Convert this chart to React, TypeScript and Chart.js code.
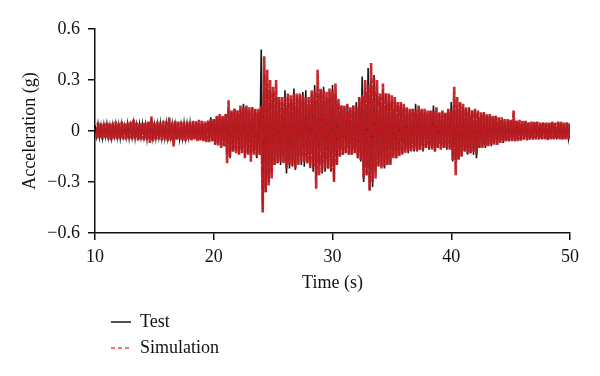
import React, { useEffect, useRef } from "react";
import { Chart, registerables } from "chart.js";

Chart.register(...registerables);

// Sampling grid of the digitised records (seconds)
const T_START = 10;
const T_STEP = 0.125;
const SIM_START = 10.125;

// Test record (g), peaks, 8 samples per second from 10 s
const testValues: number[] = [
  0.035, -0.03, 0.04, -0.035, 0.03, -0.04, 0.035, -0.03, // 10
  0.04, -0.035, 0.03, -0.04, 0.035, -0.03, 0.04, -0.035, // 11
  0.035, -0.04, 0.04, -0.03, 0.03, -0.035, 0.04, -0.04, // 12
  0.03, -0.035, 0.045, -0.04, 0.035, -0.03, 0.04, -0.035, // 13
  0.04, -0.035, 0.035, -0.045, 0.05, -0.04, 0.045, -0.04, // 14
  0.035, -0.04, 0.04, -0.035, 0.045, -0.04, 0.035, -0.04, // 15
  0.045, -0.04, 0.04, -0.035, 0.04, -0.045, 0.035, -0.05, // 16
  0.04, -0.045, 0.035, -0.04, 0.045, -0.04, 0.04, -0.035, // 17
  0.045, -0.05, 0.05, -0.045, 0.055, -0.05, 0.045, -0.05, // 18
  0.05, -0.055, 0.045, -0.05, 0.06, -0.055, 0.08, -0.06, // 19
  0.07, -0.08, 0.08, -0.07, 0.09, -0.085, 0.08, -0.09, // 20
  0.1, -0.12, 0.12, -0.16, 0.11, -0.12, 0.13, -0.11, // 21
  0.12, -0.13, 0.13, -0.12, 0.16, -0.15, 0.14, -0.13, // 22
  0.12, -0.14, 0.14, -0.13, 0.12, -0.16, 0.11, -0.14, // 23
  0.48, -0.46, 0.34, -0.36, 0.28, -0.3, 0.24, -0.25, // 24
  0.22, -0.2, 0.2, -0.19, 0.18, -0.2, 0.17, -0.18, // 25
  0.24, -0.25, 0.2, -0.22, 0.19, -0.21, 0.25, -0.23, // 26
  0.2, -0.19, 0.21, -0.2, 0.23, -0.21, 0.24, -0.19, // 27
  0.18, -0.2, 0.22, -0.24, 0.27, -0.28, 0.22, -0.2, // 28
  0.24, -0.25, 0.26, -0.24, 0.2, -0.22, 0.23, -0.24, // 29
  0.27, -0.29, 0.22, -0.2, 0.16, -0.15, 0.15, -0.14, // 30
  0.14, -0.13, 0.15, -0.14, 0.13, -0.14, 0.15, -0.13, // 31
  0.17, -0.16, 0.2, -0.18, 0.32, -0.3, 0.25, -0.26, // 32
  0.37, -0.35, 0.3, -0.33, 0.33, -0.24, 0.22, -0.2, // 33
  0.2, -0.21, 0.24, -0.22, 0.22, -0.2, 0.21, -0.19, // 34
  0.18, -0.15, 0.17, -0.16, 0.15, -0.14, 0.16, -0.13, // 35
  0.14, -0.12, 0.13, -0.13, 0.12, -0.11, 0.13, -0.12, // 36
  0.16, -0.12, 0.13, -0.11, 0.12, -0.12, 0.11, -0.1, // 37
  0.1, -0.11, 0.12, -0.1, 0.15, -0.12, 0.11, -0.1, // 38
  0.1, -0.09, 0.11, -0.1, 0.1, -0.11, 0.12, -0.1, // 39
  0.17, -0.18, 0.16, -0.17, 0.15, -0.16, 0.16, -0.15, // 40
  0.14, -0.12, 0.13, -0.14, 0.14, -0.13, 0.12, -0.14, // 41
  0.12, -0.16, 0.11, -0.1, 0.1, -0.09, 0.11, -0.1, // 42
  0.09, -0.08, 0.09, -0.09, 0.08, -0.07, 0.09, -0.08, // 43
  0.07, -0.06, 0.065, -0.07, 0.06, -0.06, 0.065, -0.06, // 44
  0.06, -0.05, 0.055, -0.06, 0.06, -0.05, 0.05, -0.055, // 45
  0.05, -0.05, 0.055, -0.045, 0.05, -0.05, 0.045, -0.05, // 46
  0.05, -0.045, 0.05, -0.05, 0.045, -0.05, 0.05, -0.045, // 47
  0.045, -0.05, 0.045, -0.04, 0.05, -0.045, 0.04, -0.05, // 48
  0.05, -0.045, 0.045, -0.05, 0.04, -0.045, 0.05, -0.04, // 49
  0.04, // 50
];

// Simulation record (g), 8 samples per second from 10.125 s
const simValues: number[] = [
  -0.045, 0.05, -0.04, 0.045, -0.05, 0.045, -0.04, 0.05, // 10
  -0.05, 0.045, -0.055, 0.05, -0.045, 0.055, -0.05, 0.045, // 11
  -0.045, 0.055, -0.05, 0.045, -0.05, 0.05, -0.045, 0.055, // 12
  -0.05, 0.07, -0.045, 0.05, -0.055, 0.045, -0.05, 0.05, // 13
  -0.055, 0.05, -0.05, 0.055, -0.07, 0.085, -0.06, 0.05, // 14
  -0.05, 0.055, -0.05, 0.05, -0.055, 0.06, -0.05, 0.055, // 15
  -0.06, 0.08, -0.055, 0.05, -0.09, 0.06, -0.05, 0.055, // 16
  -0.05, 0.055, -0.055, 0.05, -0.06, 0.055, -0.05, 0.05, // 17
  -0.055, 0.06, -0.05, 0.055, -0.06, 0.065, -0.055, 0.06, // 18
  -0.06, 0.055, -0.065, 0.06, -0.065, 0.07, -0.06, 0.07, // 19
  -0.08, 0.09, -0.085, 0.1, -0.1, 0.09, -0.09, 0.1, // 20
  -0.19, 0.18, -0.15, 0.12, -0.12, 0.13, -0.13, 0.12, // 21
  -0.14, 0.15, -0.13, 0.14, -0.16, 0.15, -0.14, 0.14, // 22
  -0.18, 0.14, -0.14, 0.13, -0.15, 0.13, -0.14, 0.15, // 23
  -0.48, 0.44, -0.36, 0.36, -0.32, 0.3, -0.28, 0.26, // 24
  -0.2, 0.3, -0.19, 0.2, -0.18, 0.2, -0.19, 0.2, // 25
  -0.22, 0.22, -0.2, 0.21, -0.2, 0.22, -0.22, 0.22, // 26
  -0.2, 0.22, -0.18, 0.21, -0.18, 0.2, -0.19, 0.2, // 27
  -0.22, 0.24, -0.21, 0.23, -0.34, 0.36, -0.26, 0.25, // 28
  -0.24, 0.24, -0.22, 0.23, -0.22, 0.25, -0.23, 0.24, // 29
  -0.3, 0.28, -0.2, 0.19, -0.15, 0.15, -0.14, 0.15, // 30
  -0.13, 0.16, -0.14, 0.14, -0.14, 0.15, -0.13, 0.14, // 31
  -0.16, 0.2, -0.17, 0.21, -0.28, 0.3, -0.26, 0.27, // 32
  -0.35, 0.4, -0.3, 0.31, -0.28, 0.3, -0.21, 0.22, // 33
  -0.22, 0.28, -0.21, 0.22, -0.2, 0.22, -0.2, 0.21, // 34
  -0.16, 0.2, -0.16, 0.17, -0.15, 0.17, -0.14, 0.16, // 35
  -0.13, 0.14, -0.12, 0.13, -0.12, 0.13, -0.11, 0.12, // 36
  -0.12, 0.15, -0.11, 0.13, -0.11, 0.13, -0.1, 0.12, // 37
  -0.1, 0.12, -0.11, 0.12, -0.12, 0.14, -0.1, 0.11, // 38
  -0.11, 0.12, -0.1, 0.11, -0.1, 0.13, -0.11, 0.12, // 39
  -0.17, 0.26, -0.26, 0.2, -0.17, 0.17, -0.15, 0.16, // 40
  -0.12, 0.14, -0.13, 0.13, -0.13, 0.12, -0.12, 0.13, // 41
  -0.14, 0.12, -0.1, 0.11, -0.1, 0.11, -0.09, 0.1, // 42
  -0.09, 0.1, -0.08, 0.09, -0.08, 0.09, -0.08, 0.08, // 43
  -0.07, 0.08, -0.065, 0.07, -0.06, 0.07, -0.06, 0.065, // 44
  -0.06, 0.12, -0.06, 0.06, -0.06, 0.065, -0.055, 0.06, // 45
  -0.05, 0.06, -0.055, 0.05, -0.05, 0.055, -0.05, 0.055, // 46
  -0.05, 0.055, -0.05, 0.05, -0.045, 0.05, -0.05, 0.05, // 47
  -0.055, 0.05, -0.05, 0.055, -0.05, 0.05, -0.045, 0.055, // 48
  -0.05, 0.055, -0.05, 0.05, -0.05, 0.05, -0.05, 0.045, // 49
];

const xTickValues = [10, 20, 30, 40, 50];
const yTickLabels = ["\u22120.6", "\u22120.3", "0", "0.3", "0.6"];
const seriesNames = ["Test", "Simulation"];

const FONT = "'Liberation Serif', 'Times New Roman', serif";
const TEST_COLOR = "#161616";
const SIM_COLOR = "rgba(190, 27, 33, 0.92)";
const SIM_FILL = "rgba(176, 26, 32, 0.96)";
const SIM_LEGEND_COLOR = "rgba(232, 70, 62, 0.95)";

const legendPlugin = {
  id: "bottomLegend",
  afterDraw(chart: any) {
    const ctx = chart.ctx;
    const items = [
      { label: seriesNames[0], color: TEST_COLOR, dash: [] as number[] },
      { label: seriesNames[1], color: SIM_LEGEND_COLOR, dash: [4, 3] },
    ];
    const x0 = 111;
    const x1 = 131;
    const tx = 140;
    const ys = [322, 348];
    ctx.save();
    items.forEach((it, i) => {
      ctx.beginPath();
      ctx.setLineDash(it.dash);
      ctx.strokeStyle = it.color;
      ctx.lineWidth = 1.5;
      ctx.moveTo(x0, ys[i]);
      ctx.lineTo(x1, ys[i]);
      ctx.stroke();
      ctx.setLineDash([]);
      ctx.fillStyle = "#111";
      ctx.font = `18px ${FONT}`;
      ctx.textBaseline = "middle";
      ctx.textAlign = "left";
      ctx.fillText(it.label, tx, ys[i]);
    });
    ctx.restore();
  },
};

export default function App() {
  const canvasRef = useRef<HTMLCanvasElement | null>(null);

  useEffect(() => {
    if (!canvasRef.current) return;
    const testData = testValues.map((v, i) => ({ x: T_START + i * T_STEP, y: v }));
    const simData = simValues.map((v, i) => ({ x: SIM_START + i * T_STEP, y: v }));

    const chart = new Chart(canvasRef.current, {
      type: "line",
      data: {
        datasets: [
          {
            label: seriesNames[1],
            data: simData,
            borderColor: SIM_COLOR,
            backgroundColor: SIM_FILL,
            fill: "origin",
            borderWidth: 2.6,
            borderDash: [12, 1],
            pointRadius: 0,
            tension: 0,
            order: 0,
          },
          {
            label: seriesNames[0],
            data: testData,
            borderColor: TEST_COLOR,
            borderWidth: 1.6,
            pointRadius: 0,
            tension: 0,
            fill: false,
            order: 1,
          },
        ],
      },
      options: {
        animation: false,
        responsive: true,
        maintainAspectRatio: false,
        layout: { padding: { top: 29, right: 30, left: 0, bottom: 0 } },
        plugins: {
          legend: { display: false },
          tooltip: { enabled: false },
          filler: { drawTime: "beforeDatasetDraw" },
        },
        scales: {
          x: {
            type: "linear",
            min: 10,
            max: 50,
            afterFit: (scale: any) => {
              scale.height = 143;
            },
            afterBuildTicks: (scale: any) => {
              scale.ticks = xTickValues.map((v) => ({ value: v }));
            },
            ticks: {
              color: "#111",
              font: { family: FONT, size: 18 },
              padding: 6,
              maxRotation: 0,
              callback: (v: any) => String(v),
            },
            grid: {
              display: true,
              drawOnChartArea: false,
              drawTicks: true,
              tickLength: 7,
              color: "#111",
              lineWidth: 1.5,
            },
            border: { display: true, color: "#111", width: 1.5 },
            title: {
              display: true,
              text: "Time (s)",
              color: "#111",
              font: { family: FONT, size: 18 },
              padding: { top: 0, bottom: 82 },
            },
          },
          y: {
            type: "linear",
            min: -0.6,
            max: 0.6,
            afterFit: (scale: any) => {
              scale.width = 95;
            },
            ticks: {
              stepSize: 0.3,
              color: "#111",
              font: { family: FONT, size: 18 },
              padding: 8,
              callback: (_v: any, i: number) => yTickLabels[i],
            },
            grid: {
              display: true,
              drawOnChartArea: false,
              drawTicks: true,
              tickLength: 7,
              color: "#111",
              lineWidth: 1.5,
            },
            border: { display: true, color: "#111", width: 1.5 },
            title: {
              display: true,
              text: "Acceleration (g)",
              color: "#111",
              font: { family: FONT, size: 18 },
              padding: { top: 19, bottom: 0 },
            },
          },
        },
      },
      plugins: [legendPlugin],
    } as any);

    return () => chart.destroy();
  }, []);

  return (
    <div style={{ position: "fixed", left: 0, top: 0, width: 600, height: 376, background: "#fff" }}>
      <canvas ref={canvasRef} />
    </div>
  );
}
